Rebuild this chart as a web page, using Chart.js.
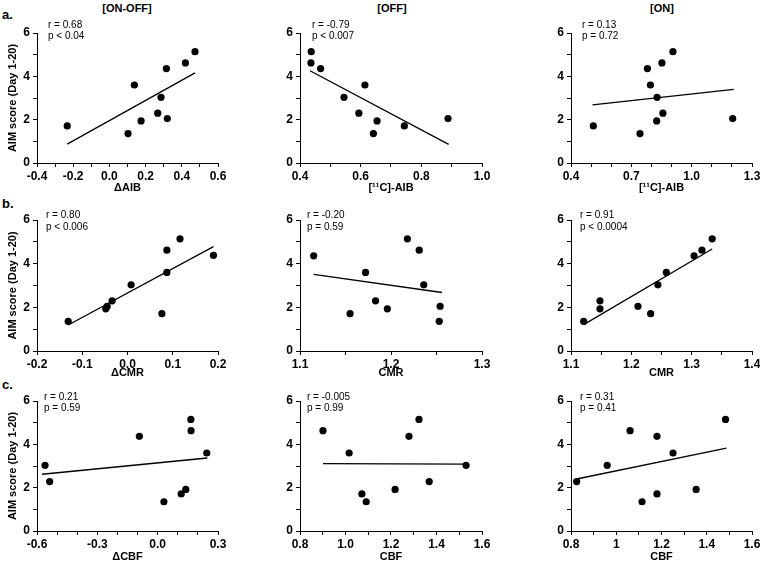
<!DOCTYPE html>
<html><head><meta charset="utf-8">
<script src="https://cdn.jsdelivr.net/npm/chart.js@4/dist/chart.umd.min.js"></script>
<style>
html,body{margin:0;padding:0;background:#fff;width:760px;height:562px;overflow:hidden;position:relative;font-family:"Liberation Sans",Arial,sans-serif}
canvas{position:absolute}
.lbl{position:absolute;font-weight:bold;color:#000;white-space:nowrap;transform:translate(-50%,-50%)}
.row{position:absolute;font-weight:bold;color:#000;font-size:13px;transform:translateY(-50%)}
</style></head><body>
<div class="lbl" style="left:127px;top:8px;font-size:11px">[ON-OFF]</div>
<div class="lbl" style="left:392px;top:8px;font-size:11px">[OFF]</div>
<div class="lbl" style="left:662px;top:8px;font-size:11px">[ON]</div>
<div class="row" style="left:2px;top:14px">a.</div>
<div class="row" style="left:2px;top:203px">b.</div>
<div class="row" style="left:2px;top:384px">c.</div>
<canvas id="a1"></canvas><canvas id="a2"></canvas><canvas id="a3"></canvas>
<canvas id="b1"></canvas><canvas id="b2"></canvas><canvas id="b3"></canvas>
<canvas id="c1"></canvas><canvas id="c2"></canvas><canvas id="c3"></canvas>
<script>
// ---- data ----
const yTickLabels = ['0','2','4','6'];

const a1X = [-0.233, 0.103, 0.138, 0.175, 0.267, 0.285, 0.315, 0.320, 0.420, 0.473];
const a1Y = [1.71, 1.36, 3.60, 1.94, 2.30, 3.03, 4.36, 2.05, 4.62, 5.14];
const a1FitX = [-0.233, 0.473], a1FitY = [0.87, 4.16];
const a1Ticks = ['-0.4','-0.2','0.0','0.2','0.4','0.6'];

const a2X = [0.437, 0.436, 0.468, 0.545, 0.594, 0.614, 0.642, 0.654, 0.744, 0.888];
const a2Y = [5.14, 4.62, 4.36, 3.03, 2.30, 3.60, 1.36, 1.94, 1.71, 2.05];
const a2FitX = [0.433, 0.890], a2FitY = [4.26, 0.86];
const a2Ticks = ['0.4','0.6','0.8','1.0'];

const a3X = [0.511, 0.743, 0.795, 0.780, 0.826, 0.828, 0.852, 0.857, 0.907, 1.204];
const a3Y = [1.71, 1.36, 3.60, 4.36, 1.94, 3.03, 4.62, 2.30, 5.14, 2.05];
const a3FitX = [0.507, 1.209], a3FitY = [2.68, 3.40];
const a3Ticks = ['0.4','0.7','1.0','1.3'];

const b1X = [-0.131, -0.048, -0.045, -0.034, 0.008, 0.076, 0.087, 0.087, 0.116, 0.190];
const b1Y = [1.36, 1.93, 2.04, 2.30, 3.03, 1.71, 3.60, 4.62, 5.14, 4.38];
const b1FitX = [-0.131, 0.190], b1FitY = [1.19, 4.78];
const b1Ticks = ['-0.2','-0.1','0.0','0.1','0.2'];

const b2X = [1.115, 1.155, 1.172, 1.183, 1.196, 1.218, 1.231, 1.236, 1.254, 1.253];
const b2Y = [4.36, 1.71, 3.60, 2.30, 1.93, 5.14, 4.62, 3.03, 2.05, 1.36];
const b2FitX = [1.115, 1.256], b2FitY = [3.51, 2.68];
const b2Ticks = ['1.1','1.2','1.3'];

const b3X = [1.121, 1.148, 1.148, 1.211, 1.232, 1.244, 1.258, 1.304, 1.317, 1.334];
const b3Y = [1.36, 1.93, 2.30, 2.05, 1.71, 3.03, 3.60, 4.36, 4.62, 5.14];
const b3FitX = [1.121, 1.334], b3FitY = [1.21, 4.67];
const b3Ticks = ['1.1','1.2','1.3','1.4'];

const c1X = [-0.560, -0.537, -0.091, 0.031, 0.117, 0.140, 0.165, 0.166, 0.244];
const c1Y = [3.03, 2.28, 4.37, 1.35, 1.71, 1.92, 5.15, 4.63, 3.60];
const c1FitX = [-0.575, 0.247], c1FitY = [2.62, 3.37];
const c1Ticks = ['-0.6','-0.3','0.0','0.3'];

const c2X = [0.901, 1.016, 1.072, 1.091, 1.218, 1.279, 1.323, 1.368, 1.530];
const c2Y = [4.63, 3.60, 1.71, 1.35, 1.92, 4.37, 5.15, 2.28, 3.03];
const c2FitX = [0.901, 1.530], c2FitY = [3.11, 3.09];
const c2Ticks = ['0.8','1.0','1.2','1.4','1.6'];

const c3X = [0.825, 0.960, 1.061, 1.114, 1.180, 1.180, 1.251, 1.353, 1.483];
const c3Y = [2.28, 3.03, 4.63, 1.35, 4.37, 1.71, 3.60, 1.92, 5.15];
const c3FitX = [0.825, 1.487], c3FitY = [2.40, 3.83];
const c3Ticks = ['0.8','1','1.2','1.4','1.6'];

const statsR = ['r = 0.68','r = -0.79','r = 0.13','r = 0.80','r = -0.20','r = 0.91','r = 0.21','r = -0.005','r = 0.31'];
const statsP = ['p < 0.04','p < 0.007','p = 0.72','p < 0.006','p = 0.59','p < 0.0004','p = 0.59','p = 0.99','p = 0.41'];
const xTitles = ['\u0394AIB','[\u00b9\u00b9C]-AIB','[\u00b9\u00b9C]-AIB','\u0394CMR','CMR','CMR','\u0394CBF','CBF','CBF'];
const yTitle = 'AIM score (Day 1-20)';

// ---- layout / style ----
const FONT = '"Liberation Sans", Arial, sans-serif';
Chart.defaults.font.family = FONT;
Chart.defaults.color = '#000';

const panels = [
  {id:'a1', x:a1X, y:a1Y, fx:a1FitX, fy:a1FitY, ticks:a1Ticks, minor:0.1},
  {id:'a2', x:a2X, y:a2Y, fx:a2FitX, fy:a2FitY, ticks:a2Ticks, minor:0.1},
  {id:'a3', x:a3X, y:a3Y, fx:a3FitX, fy:a3FitY, ticks:a3Ticks, minor:0.1},
  {id:'b1', x:b1X, y:b1Y, fx:b1FitX, fy:b1FitY, ticks:b1Ticks, minor:0.1},
  {id:'b2', x:b2X, y:b2Y, fx:b2FitX, fy:b2FitY, ticks:b2Ticks, minor:0.05},
  {id:'b3', x:b3X, y:b3Y, fx:b3FitX, fy:b3FitY, ticks:b3Ticks, minor:0.05},
  {id:'c1', x:c1X, y:c1Y, fx:c1FitX, fy:c1FitY, ticks:c1Ticks, minor:0.1},
  {id:'c2', x:c2X, y:c2Y, fx:c2FitX, fy:c2FitY, ticks:c2Ticks, minor:0.1},
  {id:'c3', x:c3X, y:c3Y, fx:c3FitX, fy:c3FitY, ticks:c3Ticks, minor:0.1}
];
const colLeft = [37, 300, 571], colW = [181, 182, 181];
const rowTop = [33, 220, 401], rowH = [130, 131, 130], rowXH = [36, 33, 37];
const TOPPAD = 16, RIGHTPAD = 12;
const textDx = [11,12,11, 9,7,9, 7,7,9];
const textDy = [[-8,3],[-8,3],[-8,3],[-5,7],[-5,7],[-5,7],[-4,7],[-4,7],[-4,7]];

const statsPlugin = {
  id: 'stats',
  afterDraw(chart, args, o) {
    const ctx = chart.ctx, a = chart.chartArea;
    ctx.save();
    ctx.font = '10px ' + FONT;
    ctx.fillStyle = '#000';
    ctx.textBaseline = 'middle';
    ctx.textAlign = 'left';
    ctx.fillText(o.r, a.left + o.dx, a.top + o.dy1);
    ctx.fillText(o.p, a.left + o.dx, a.top + o.dy2);
    ctx.restore();
  }
};

panels.forEach((p, i) => {
  const col = i % 3, row = Math.floor(i / 3);
  const yW = col === 0 ? 35 : 30;
  const padL = col === 0 ? 2 : 0;
  const cv = document.getElementById(p.id);
  const w = padL + yW + colW[col] + RIGHTPAD;
  const h = TOPPAD + rowH[row] + rowXH[row];
  cv.width = w; cv.height = h;
  cv.style.width = w + 'px'; cv.style.height = h + 'px';
  cv.style.left = (colLeft[col] - yW - padL) + 'px';
  cv.style.top = (rowTop[row] - TOPPAD) + 'px';
  const tickVals = p.ticks.map(Number);
  const pts = p.x.map((v, k) => ({x: v, y: p.y[k]}));
  const fit = p.fx.map((v, k) => ({x: v, y: p.fy[k]}));
  new Chart(cv, {
    type: 'scatter',
    data: {datasets: [
      {data: pts, pointRadius: 3.6, pointHoverRadius: 3.6, pointBackgroundColor: '#000', pointBorderWidth: 0, showLine: false},
      {data: fit, showLine: true, pointRadius: 0, borderColor: '#000', borderWidth: 1.3, fill: false}
    ]},
    options: {
      responsive: false, animation: false, devicePixelRatio: 1,
      layout: {padding: {left: padL, top: TOPPAD, right: RIGHTPAD, bottom: 0}},
      plugins: {legend: {display: false}, tooltip: {enabled: false},
        stats: {r: statsR[i], p: statsP[i], dx: textDx[i], dy1: textDy[i][0], dy2: textDy[i][1]}},
      scales: {
        x: {
          type: 'linear', position: 'bottom',
          min: tickVals[0], max: tickVals[tickVals.length - 1],
          afterFit(s) { s.height = rowXH[row]; },
          ticks: {stepSize: p.minor, autoSkip: false, maxRotation: 0, padding: 2,
            font: {size: 12, weight: 'bold'}, color: '#000',
            callback(v) { const k = tickVals.findIndex(t => Math.abs(t - v) < 1e-6); return k >= 0 ? p.ticks[k] : ''; }},
          grid: {drawOnChartArea: false, drawTicks: true, tickLength: 4, color: '#000', tickWidth: 1},
          border: {display: true, color: '#000', width: 1},
          title: {display: true, text: xTitles[i], font: {size: 11, weight: 'bold'}, color: '#000', padding: {top: 4, bottom: 4}}
        },
        y: {
          type: 'linear', position: 'left', min: 0, max: 6,
          afterFit(s) { s.width = yW; },
          ticks: {stepSize: 1, autoSkip: false, padding: 3,
            font: {size: 12, weight: 'bold'}, color: '#000',
            callback(v) { const k = yTickLabels.indexOf(String(v)); return k >= 0 ? yTickLabels[k] : ''; }},
          grid: {drawOnChartArea: false, drawTicks: true, tickLength: 4, color: '#000', tickWidth: 1},
          border: {display: true, color: '#000', width: 1},
          title: {display: col === 0, text: yTitle, font: {size: 11, weight: 'bold'}, color: '#000', padding: {top: 4, bottom: 4}}
        }
      }
    },
    plugins: [statsPlugin]
  });
});
</script>
</body></html>
